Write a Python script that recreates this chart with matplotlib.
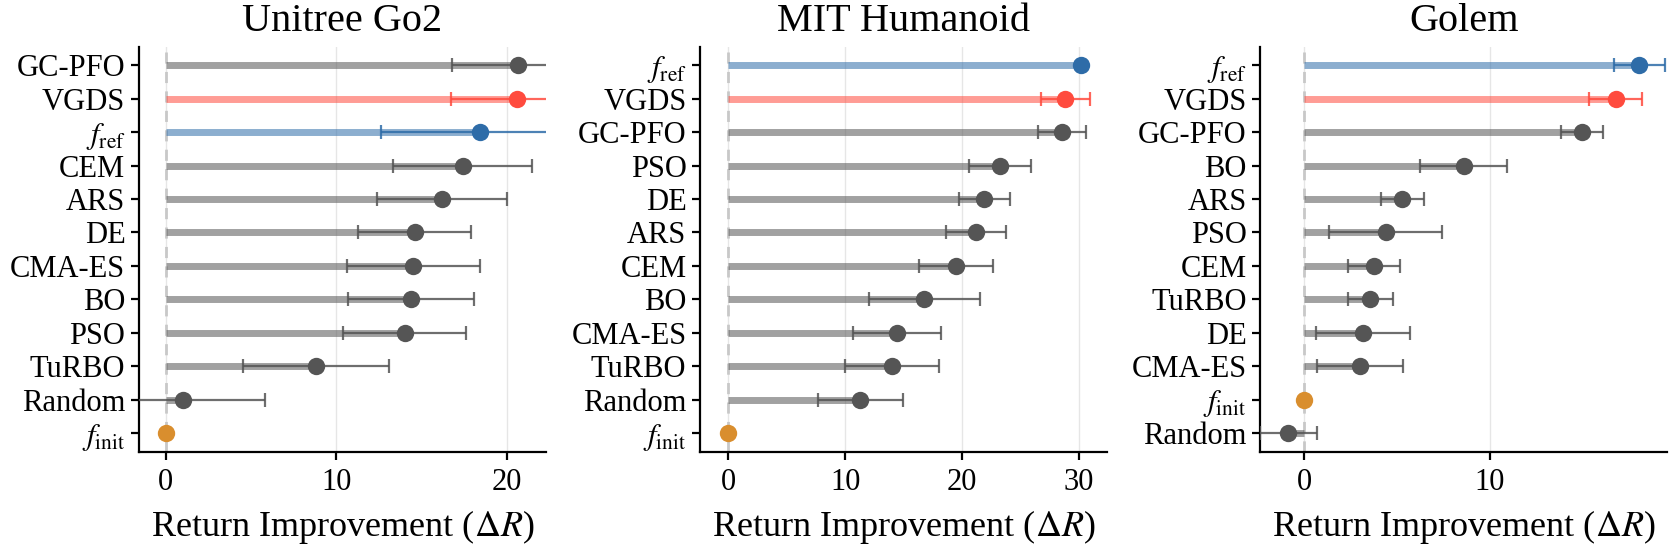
import matplotlib
matplotlib.use("Agg")
import matplotlib.pyplot as plt
import numpy as np

plt.rcParams['font.family'] = ['Liberation Serif', 'DejaVu Serif']
plt.rcParams['mathtext.fontset'] = 'stix'

titles = ["Unitree Go2", "MIT Humanoid", "Golem"]

# Panel 1: Unitree Go2 (top to bottom)
go2_methods = ["GC-PFO", "VGDS", "fref", "CEM", "ARS", "DE", "CMA-ES", "BO", "PSO", "TuRBO", "Random", "finit"]
go2_mean = [20.65, 20.6, 18.4, 17.4, 16.2, 14.6, 14.5, 14.4, 14.0, 8.8, 1.0, 0.0]
go2_std = [3.85, 3.9, 5.8, 4.1, 3.8, 3.3, 3.9, 3.7, 3.6, 4.3, 4.8, 0.0]

# Panel 2: MIT Humanoid
mit_methods = ["fref", "VGDS", "GC-PFO", "PSO", "DE", "ARS", "CEM", "BO", "CMA-ES", "TuRBO", "Random", "finit"]
mit_mean = [30.2, 28.8, 28.5, 23.2, 21.9, 21.2, 19.5, 16.75, 14.45, 14.0, 11.3, 0.0]
mit_std = [0.0, 2.1, 2.05, 2.65, 2.15, 2.55, 3.15, 4.75, 3.75, 4.0, 3.6, 0.0]

# Panel 3: Golem
golem_methods = ["fref", "VGDS", "GC-PFO", "BO", "ARS", "PSO", "CEM", "TuRBO", "DE", "CMA-ES", "finit", "Random"]
golem_mean = [18.08, 16.8, 14.98, 8.59, 5.29, 4.38, 3.74, 3.55, 3.18, 3.0, 0.0, -0.87]
golem_std = [1.37, 1.45, 1.12, 2.35, 1.15, 3.05, 1.4, 1.22, 2.53, 2.3, 0.0, 1.53]

xlims = [(-1.6, 22.3), (-2.45, 32.4), (-2.4, 19.6)]
xticks = [[0, 10, 20], [0, 10, 20, 30], [0, 10]]

panels = [(go2_methods, go2_mean, go2_std),
          (mit_methods, mit_mean, mit_std),
          (golem_methods, golem_mean, golem_std)]

label_map = {"fref": r"$f_{\mathrm{ref}}$", "finit": r"$f_{\mathrm{init}}$"}
dot_colors = {"VGDS": "#ff4b3e", "fref": "#2e6ca8", "finit": "#d98e2e"}
gray = "#555555"

fig = plt.figure(figsize=(16.73, 5.51), dpi=100)
lefts = [0.0828, 0.4182, 0.7531]
W, B, H = 0.2436, 0.1802, 0.735

for i, (methods, mean, std) in enumerate(panels):
    ax = fig.add_axes([lefts[i], B, W, H])
    n = len(methods)
    ys = np.arange(n)[::-1]
    ax.axvline(0, color="#c8c8c8", lw=2, ls=(0, (4, 3)), zorder=1)
    for y, m, mu, sd in zip(ys, methods, mean, std):
        c = dot_colors.get(m, gray)
        if m != "finit":
            ax.plot([0, mu], [y, y], color=c, lw=5, alpha=0.55,
                    solid_capstyle="butt", zorder=2)
            ax.errorbar(mu, y, xerr=sd, fmt="none", ecolor=c, elinewidth=1.6,
                        capsize=5, capthick=1.6, alpha=0.85, zorder=3)
        ax.plot(mu, y, "o", color=c, ms=12.5, zorder=4, markeredgewidth=0)
    ax.set_yticks(ys)
    ax.set_yticklabels([label_map.get(m, m) for m in methods])
    ax.set_ylim(-0.55, n - 1 + 0.55)
    ax.set_xlim(*xlims[i])
    ax.set_xticks(xticks[i])
    ax.grid(axis="x", color="#e6e6e6", lw=1, zorder=0)
    ax.set_axisbelow(True)
    for s in ["top", "right"]:
        ax.spines[s].set_visible(False)
    for s in ["left", "bottom"]:
        ax.spines[s].set_linewidth(1.6)
    ax.tick_params(axis="both", labelsize=22, width=1.6, length=6)
    ax.tick_params(axis="x", pad=6)
    ax.set_title(titles[i], fontsize=29, pad=11)
    ax.set_xlabel(r"Return Improvement ($\Delta R$)", fontsize=26, labelpad=8)

fig.savefig("out.png", dpi=100)
